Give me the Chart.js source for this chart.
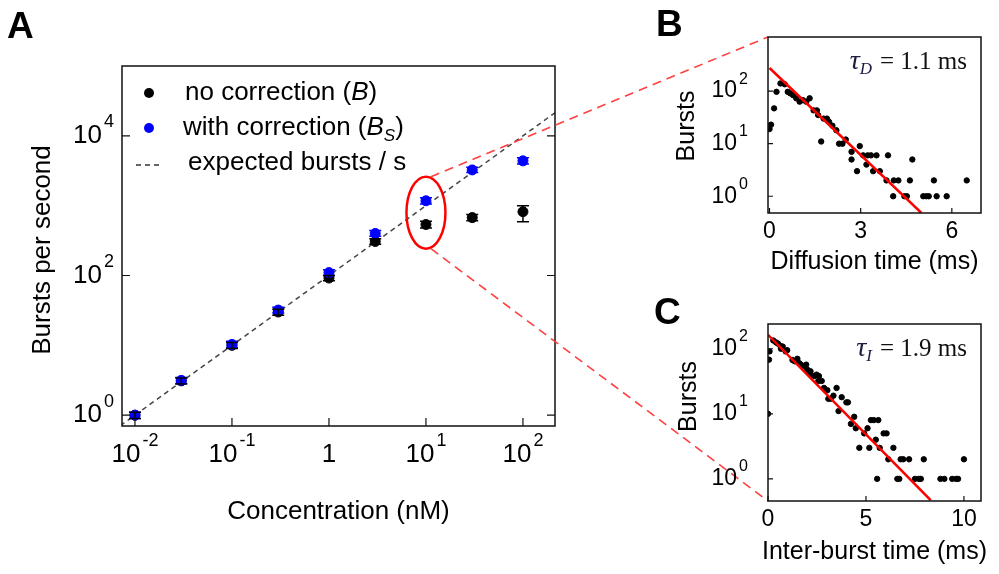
<!DOCTYPE html>
<html>
<head>
<meta charset="utf-8">
<script src="https://cdn.jsdelivr.net/npm/chart.js@4.4.1/dist/chart.umd.min.js"></script>
<style>
  html, body { margin: 0; padding: 0; background: #fff; }
  #wrap { position: relative; width: 999px; height: 574px; overflow: hidden; }
  canvas { position: absolute; }
</style>
</head>
<body>
<div id="wrap">
  <canvas id="chartA" width="999" height="574" style="left:0;top:0"></canvas>
  <canvas id="chartB" width="359" height="280" style="left:640px;top:0"></canvas>
  <canvas id="chartC" width="359" height="294" style="left:640px;top:280px"></canvas>
</div>
<script>
// ---- Panel A: bursts per second vs concentration
const concentration = [0.01, 0.03, 0.1, 0.3, 1, 3, 10, 30, 100];
const burstsRaw     = [1.0, 3.1, 10, 30, 92, 307, 537, 675, 820];
const burstsRawLow  = [0.9, 2.8, 9, 27, 84, 280, 480, 610, 590];
const burstsRawHigh = [1.1, 3.4, 11, 33, 100, 335, 600, 745, 1000];
const burstsCorr     = [1.0, 3.15, 10.3, 32, 110, 400, 1175, 3250, 4380];
const burstsCorrLow  = [0.9, 2.85, 9.3, 29, 100, 365, 1060, 2980, 3950];
const burstsCorrHigh = [1.1, 3.45, 11.4, 35, 121, 440, 1300, 3550, 4850];
const expectedConc   = [0.005, 300];
const expectedBursts = [0.5, 30000];
const aXTicks = [0.01, 0.1, 1, 10, 100];
const aXTickLabels = ['10^-2', '10^-1', '1', '10^1', '10^2'];
const aYTicks = [1, 100, 10000];
const aYTickLabels = ['10^0', '10^2', '10^4'];

// ---- Panel B: diffusion time histogram
const diffTime = [0.0, 0.05, 0.15, 0.23, 0.36, 0.5, 0.6, 0.68, 0.77, 0.88, 0.99, 1.1, 1.21, 1.32, 1.45,
  1.56, 1.6, 1.7, 1.78, 1.89, 1.96, 2.07, 2.2, 2.29, 2.4, 2.51, 2.7, 2.7, 2.88, 2.97, 3.08, 3.19, 3.23,
  3.34, 3.41, 3.52, 3.63, 3.85, 3.9, 4.07, 4.09, 4.24, 4.44, 4.52, 4.62, 4.7, 5.06, 5.16, 5.24, 5.41,
  5.5, 5.83, 6.49];
const diffCount = [19, 23, 47, 97, 140, 135, 97, 91, 84, 73, 63, 67, 63, 73, 43,
  43, 35, 11, 30, 30, 26, 22, 18, 10, 10, 12, 7, 5, 3, 9, 6, 4, 6,
  6, 3, 6, 3, 2, 6, 1, 2, 2, 1, 1, 2, 5, 1, 1, 1, 2,
  1, 1, 2];
const diffFitTime = [0, 5.0];
const diffFitCount = [275, 0.48];
const bXTicks = [0, 3, 6];
const bXTickLabels = ['0', '3', '6'];
const bYTicks = [1, 10, 100];
const bYTickLabels = ['10^0', '10^1', '10^2'];

// ---- Panel C: inter-burst time histogram
const interTime = [0, 0.05, 0.08, 0.27, 0.41, 0.51, 0.64, 0.75, 0.66, 0.9, 0.98, 1.25, 1.37, 1.5, 1.6,
  1.68, 1.82, 1.95, 2.0, 2.05, 2.17, 2.2, 2.37, 2.48, 2.6, 2.57, 2.74, 2.86, 3.03, 3.08, 3.2, 3.34, 3.5,
  3.6, 3.76, 4.0, 4.08, 4.23, 4.4, 4.48, 4.66, 4.91, 5.08, 5.17, 5.25, 5.4, 5.5, 5.57, 5.63, 5.7, 5.9,
  6.05, 6.14, 6.4, 6.6, 6.7, 6.77, 6.9, 7.2, 7.5, 7.7, 7.8, 7.95, 8.8, 9.0, 9.4, 9.6, 9.7, 10.0];
const interCount = [10, 68, 91, 134, 125, 120, 110, 108, 100, 91, 95, 67, 64, 70, 60,
  57, 54, 57, 48, 45, 45, 39, 38, 40, 38, 32, 32, 25, 23, 17, 17, 19, 25,
  11, 18, 15, 15, 7, 9, 6, 3, 5, 6, 3, 8, 8, 4, 1, 8, 3, 5,
  5, 2, 3, 1, 1, 2, 2, 2, 1, 1, 1, 2, 1, 1, 1, 1, 1, 2];
const interFitTime = [0, 8.3];
const interFitCount = [164, 0.47];
const cXTicks = [0, 5, 10];
const cXTickLabels = ['0', '5', '10'];
const cYTicks = [1, 10, 100];
const cYTickLabels = ['10^0', '10^1', '10^2'];

const SANS = '"Liberation Sans", Arial, sans-serif';
const SERIF = '"Liberation Serif", "Times New Roman", serif';

function pts(xs, ys) {
  return xs.map((x, i) => ({ x: x, y: ys[i] }));
}

// draws "10^2" as 10 with a raised exponent
function drawPow(ctx, text, x, y, align, size) {
  const parts = text.split('^');
  const base = parts[0], exp = parts[1] || '';
  const sup = Math.round(size * 0.68);
  ctx.font = size + 'px ' + SANS;
  const wb = ctx.measureText(base).width;
  ctx.font = sup + 'px ' + SANS;
  const we = exp ? ctx.measureText(exp).width + 2 : 0;
  const x0 = align === 'right' ? x - wb - we : x - (wb + we) / 2;
  ctx.textAlign = 'left';
  ctx.textBaseline = 'middle';
  ctx.font = size + 'px ' + SANS;
  ctx.fillText(base, x0, y);
  if (exp) {
    ctx.font = sup + 'px ' + SANS;
    ctx.fillText(exp, x0 + wb + 2, y - size * 0.52);
  }
}

// frame, inward ticks, tick labels, titles, panel letter
const paperAxes = {
  id: 'paperAxes',
  afterDraw(chart, args, o) {
    const ctx = chart.ctx, a = chart.chartArea;
    const xs = chart.scales.x, ys = chart.scales.y;
    ctx.save();
    ctx.strokeStyle = '#111';
    ctx.lineWidth = 1.5;
    ctx.strokeRect(a.left, a.top, a.right - a.left, a.bottom - a.top);

    ctx.lineWidth = 1.2;
    ctx.beginPath();
    o.yTicks.forEach(v => {
      const y = ys.getPixelForValue(v);
      ctx.moveTo(a.left, y); ctx.lineTo(a.left + o.tickLen, y);
      if (o.rightTicks) { ctx.moveTo(a.right, y); ctx.lineTo(a.right - o.tickLen, y); }
    });
    o.xTicks.forEach(v => {
      const x = xs.getPixelForValue(v);
      ctx.moveTo(x, a.bottom); ctx.lineTo(x, a.bottom - o.tickLen);
    });
    ctx.stroke();

    ctx.fillStyle = '#000';
    o.xTicks.forEach((v, i) => drawPow(ctx, o.xLabels[i], xs.getPixelForValue(v), a.bottom + o.xLabelGap, 'center', o.tickSize));
    o.yTicks.forEach((v, i) => drawPow(ctx, o.yLabels[i], a.left - o.yLabelGap, ys.getPixelForValue(v), 'right', o.tickSize));

    ctx.font = o.titleSize + 'px ' + SANS;
    ctx.textAlign = 'center';
    ctx.textBaseline = 'middle';
    ctx.fillText(o.xTitle, (a.left + a.right) / 2, a.bottom + o.xTitleGap);
    ctx.save();
    ctx.translate(a.left - o.yTitleGap, (a.top + a.bottom) / 2 + o.yTitleShift);
    ctx.rotate(-Math.PI / 2);
    ctx.fillText(o.yTitle, 0, 0);
    ctx.restore();

    ctx.font = 'bold 37px ' + SANS;
    ctx.textAlign = 'left';
    ctx.textBaseline = 'alphabetic';
    ctx.fillText(o.letter, o.letterX, o.letterY);

    if (o.tau) {
      // italic tau with subscript, then "= x ms"
      const xr = a.right - 14, yb = a.top + 32;
      ctx.font = '25px ' + SERIF;
      const wr = ctx.measureText(o.tau[1]).width;
      ctx.font = 'italic 17px ' + SERIF;
      const ws = ctx.measureText(o.tau[0]).width;
      ctx.font = 'italic 28px ' + SERIF;
      const wt = ctx.measureText('τ').width;
      const x = xr - wr - ws - wt - 8;
      ctx.fillStyle = '#1c1c40';
      ctx.fillText('τ', x, yb);
      ctx.font = 'italic 17px ' + SERIF;
      ctx.fillText(o.tau[0], x + wt, yb + 5);
      ctx.font = '25px ' + SERIF;
      ctx.fillStyle = '#111';
      ctx.fillText(o.tau[1], x + wt + ws + 8, yb);
    }
    ctx.restore();
  }
};

function baseOptions(padding, xScale, yScale, axes) {
  return {
    responsive: false,
    animation: false,
    layout: { padding: padding },
    scales: {
      x: Object.assign({ display: false }, xScale),
      y: Object.assign({ display: false }, yScale)
    },
    plugins: { legend: { display: false }, tooltip: { enabled: false }, paperAxes: axes }
  };
}

const chartB = new Chart(document.getElementById('chartB'), {
  type: 'scatter',
  data: {
    datasets: [
      { data: pts(diffFitTime, diffFitCount), showLine: true, borderColor: '#ff0000', borderWidth: 2.5, pointRadius: 0, order: 0 },
      { data: pts(diffTime, diffCount), backgroundColor: '#000', borderColor: '#000', pointRadius: 2.7, order: 1 }
    ]
  },
  options: baseOptions({ left: 128, top: 37, right: 18, bottom: 67 },
    { type: 'linear', min: -0.05, max: 6.96 },
    { type: 'logarithmic', min: 0.48, max: 1070 },
    { xTicks: bXTicks, xLabels: bXTickLabels, yTicks: bYTicks, yLabels: bYTickLabels, tickLen: 5,
      tickSize: 23, titleSize: 25, xLabelGap: 19, yLabelGap: 20, xTitleGap: 49, yTitleGap: 81, yTitleShift: 1,
      xTitle: 'Diffusion time (ms)', yTitle: 'Bursts', letter: 'B', letterX: 16, letterY: 36,
      tau: ['D', '= 1.1 ms'] }),
  plugins: [paperAxes]
});

const chartC = new Chart(document.getElementById('chartC'), {
  type: 'scatter',
  data: {
    datasets: [
      { data: pts(interFitTime, interFitCount), showLine: true, borderColor: '#ff0000', borderWidth: 2.5, pointRadius: 0, order: 0 },
      { data: pts(interTime, interCount), backgroundColor: '#000', borderColor: '#000', pointRadius: 2.7, order: 1 }
    ]
  },
  options: baseOptions({ left: 128, top: 44, right: 18, bottom: 73 },
    { type: 'linear', min: 0, max: 10.87 },
    { type: 'logarithmic', min: 0.457, max: 240 },
    { xTicks: cXTicks, xLabels: cXTickLabels, yTicks: cYTicks, yLabels: cYTickLabels, tickLen: 5,
      tickSize: 23, titleSize: 25, xLabelGap: 19, yLabelGap: 20, xTitleGap: 51, yTitleGap: 79, yTitleShift: -16,
      xTitle: 'Inter-burst time (ms)', yTitle: 'Bursts', letter: 'C', letterX: 14, letterY: 44,
      tau: ['I', '= 1.9 ms'] }),
  plugins: [paperAxes]
});

// error bars, legend, zoom ellipse and connector lines for panel A
const panelAExtras = {
  id: 'panelAExtras',
  afterDatasetsDraw(chart) {
    const ctx = chart.ctx, ys = chart.scales.y;
    ctx.save();
    chart.data.datasets.forEach((ds, di) => {
      if (!ds.errLow) return;
      const meta = chart.getDatasetMeta(di);
      ctx.strokeStyle = ds.borderColor;
      ctx.lineWidth = 1.5;
      meta.data.forEach((p, i) => {
        const y1 = ys.getPixelForValue(ds.errLow[i]), y2 = ys.getPixelForValue(ds.errHigh[i]);
        ctx.beginPath();
        ctx.moveTo(p.x, y1); ctx.lineTo(p.x, y2);
        ctx.moveTo(p.x - 6, y1); ctx.lineTo(p.x + 6, y1);
        ctx.moveTo(p.x - 6, y2); ctx.lineTo(p.x + 6, y2);
        ctx.stroke();
      });
    });
    ctx.restore();
  },
  afterDraw(chart) {
    const ctx = chart.ctx, a = chart.chartArea;
    const xs = chart.scales.x, ys = chart.scales.y;
    ctx.save();

    // legend
    const rows = [
      { mark: '#000', x: 63, parts: [['no correction (', ''], ['B', 'italic '], [')', '']] },
      { mark: '#0000ff', x: 61, parts: [['with correction (', ''], ['B', 'italic '], ['S', 'sub'], [')', '']] },
      { mark: 'dash', x: 66, parts: [['expected bursts / s', '']] }
    ];
    rows.forEach((r, i) => {
      const y = a.top + 27 + 35 * i;
      if (r.mark === 'dash') {
        ctx.strokeStyle = '#333'; ctx.lineWidth = 1.3; ctx.setLineDash([5, 4]);
        ctx.beginPath(); ctx.moveTo(a.left + 14, y + 2); ctx.lineTo(a.left + 41, y + 2); ctx.stroke();
        ctx.setLineDash([]);
      } else {
        ctx.fillStyle = r.mark;
        ctx.beginPath(); ctx.arc(a.left + 27, y, 5, 0, Math.PI * 2); ctx.fill();
      }
      let x = a.left + r.x;
      ctx.fillStyle = '#000';
      ctx.textAlign = 'left'; ctx.textBaseline = 'middle';
      r.parts.forEach(p => {
        if (p[1] === 'sub') {
          ctx.font = 'italic 17px ' + SANS;
          ctx.fillText(p[0], x, y + 8);
        } else {
          ctx.font = p[1] + '26px ' + SANS;
          ctx.fillText(p[0], x, y);
        }
        x += ctx.measureText(p[0]).width;
      });
    });

    // ellipse around the 10 nM points
    const i10 = concentration.indexOf(10);
    const cx = xs.getPixelForValue(10);
    const cy = (ys.getPixelForValue(burstsRaw[i10]) + ys.getPixelForValue(burstsCorr[i10])) / 2;
    const rx = 19.5, ry = 36;
    ctx.strokeStyle = '#ff0000'; ctx.lineWidth = 2.5;
    ctx.beginPath(); ctx.ellipse(cx, cy, rx, ry, 0, 0, Math.PI * 2); ctx.stroke();

    // dashed connectors to panels B and C
    const cb = chartB.canvas, cc = chartC.canvas;
    const bx = cb.offsetLeft + chartB.chartArea.left, by = cb.offsetTop + chartB.chartArea.top;
    const qx = cc.offsetLeft + chartC.chartArea.left, qy = cc.offsetTop + chartC.chartArea.bottom;
    ctx.strokeStyle = '#ff4040'; ctx.lineWidth = 1.6; ctx.setLineDash([9, 6]);
    ctx.beginPath();
    ctx.moveTo(cx + 5, cy - ry); ctx.lineTo(bx, by);
    ctx.moveTo(cx + 5, cy + ry); ctx.lineTo(qx, qy);
    ctx.stroke();
    ctx.restore();
  }
};

const chartA = new Chart(document.getElementById('chartA'), {
  type: 'scatter',
  data: {
    datasets: [
      { label: 'with correction (BS)', data: pts(concentration, burstsCorr), backgroundColor: '#0000ff', borderColor: '#0000ff',
        pointRadius: 5, errLow: burstsCorrLow, errHigh: burstsCorrHigh, order: 0 },
      { label: 'no correction (B)', data: pts(concentration, burstsRaw), backgroundColor: '#000', borderColor: '#000',
        pointRadius: 5, errLow: burstsRawLow, errHigh: burstsRawHigh, order: 1 },
      { label: 'expected bursts / s', data: pts(expectedConc, expectedBursts), showLine: true, borderColor: '#444',
        borderDash: [5, 4], borderWidth: 1.5, pointRadius: 0, order: 2 }
    ]
  },
  options: baseOptions({ left: 122, top: 66, right: 444, bottom: 148 },
    { type: 'logarithmic', min: 0.00735, max: 214 },
    { type: 'logarithmic', min: 0.74, max: 100000 },
    { xTicks: aXTicks, xLabels: aXTickLabels, yTicks: aYTicks, yLabels: aYTickLabels, tickLen: 8, rightTicks: true,
      tickSize: 26, titleSize: 26, xLabelGap: 29, yLabelGap: 8, xTitleGap: 86, yTitleGap: 79, yTitleShift: 4,
      xTitle: 'Concentration (nM)', yTitle: 'Bursts per second', letter: 'A', letterX: 7, letterY: 38 }),
  plugins: [paperAxes, panelAExtras]
});
</script>
</body>
</html>
